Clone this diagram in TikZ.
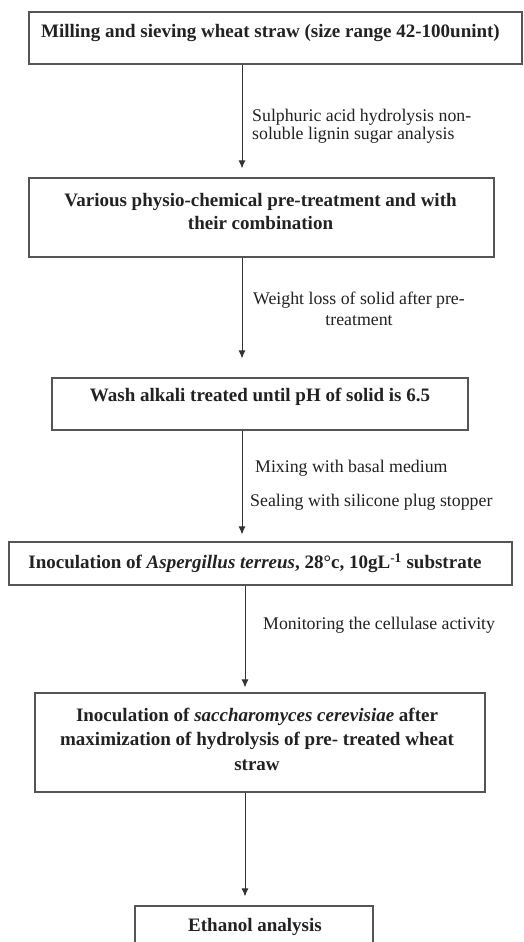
\documentclass[tikz,border=0pt]{standalone}
\usepackage{fontspec}
\setmainfont{Liberation Serif}
\usetikzlibrary{arrows.meta}
\definecolor{edge}{HTML}{555555}
\definecolor{ink}{HTML}{222222}
\definecolor{wire}{HTML}{333333}
\tikzset{
  stepbox/.style={draw=edge, line width=1.1pt, fill=white, rectangle, inner sep=0pt},
  boxtext/.style={font=\fontsize{19}{23}\selectfont\bfseries, text=ink, align=center, inner sep=0pt},
  lbl/.style={font=\fontsize{17.8}{18}\selectfont, text=ink, inner sep=0pt},
  arr/.style={draw=wire, line width=1pt, -{Latex[length=8pt,width=7pt]}},
}
\begin{document}
\begin{tikzpicture}[x=1pt,y=-1pt]
\clip (0,0) rectangle (524,942);
\fill[white] (0,0) rectangle (524,942);
% boxes
\node[stepbox, minimum width=493pt, minimum height=52pt] (b1) at (275.5,38) {};
\node[stepbox, minimum width=465pt, minimum height=79pt] (b2) at (261.5,217.5) {};
\node[stepbox, minimum width=416pt, minimum height=52pt] (b3) at (260,404) {};
\node[stepbox, minimum width=503pt, minimum height=43pt] (b4) at (260.5,563.5) {};
\node[stepbox, minimum width=450pt, minimum height=99pt] (b5) at (260,742.5) {};
\node[stepbox, minimum width=238pt, minimum height=60pt] (b6) at (254,936) {};
% box texts
\node[boxtext] (t1) at (270.5,33) {Milling and sieving wheat straw (size range 42-100unint)};
\node[boxtext] (t2) at (260.5,211.5) {Various physio-chemical pre-treatment and with\\their combination};
\node[boxtext] (t3) at (260,397) {Wash alkali treated until pH of solid is 6.5};
\node[boxtext] (t4) at (255,563) {Inoculation of \textit{Aspergillus terreus}, 28°c, 10gL\textsuperscript{-1} substrate};
\node[boxtext, font=\fontsize{19}{24.5}\selectfont\bfseries] (t5) at (257,739) {Inoculation of \textit{saccharomyces cerevisiae} after\\maximization of hydrolysis of pre- treated wheat\\straw};
\node[boxtext] (t6) at (255,927) {Ethanol analysis};
% arrow axes
\coordinate (ax1) at (242,0);
\coordinate (ax2) at (245,0);
\draw[arr, shorten >=9pt] (ax1 |- b1.south) -- (ax1 |- b2.north);
\draw[arr, shorten >=19pt] (ax1 |- b2.south) -- (ax1 |- b3.north);
\draw[arr, shorten >=7pt] (ax1 |- b3.south) -- (ax1 |- b4.north);
\draw[arr, shorten >=5pt] (ax2 |- b4.south) -- (ax2 |- b5.north);
\draw[arr, shorten >=9pt] (ax2 |- b5.south) -- (ax2 |- b6.north);
% labels
\node[lbl, anchor=west, align=left] (l1) at (252,126) {Sulphuric acid hydrolysis non-\\soluble lignin sugar analysis};
\node[lbl, align=center, font=\fontsize{17.8}{21}\selectfont] (l2) at (359,308.5) {Weight loss of solid after pre-\\treatment};
\node[lbl, anchor=west] (l3) at (255,468) {Mixing with basal medium};
\node[lbl, anchor=west] (l4) at (250,502) {Sealing with silicone plug stopper};
\node[lbl, anchor=west] (l5) at (263,625) {Monitoring the cellulase activity};
\end{tikzpicture}
\end{document}
